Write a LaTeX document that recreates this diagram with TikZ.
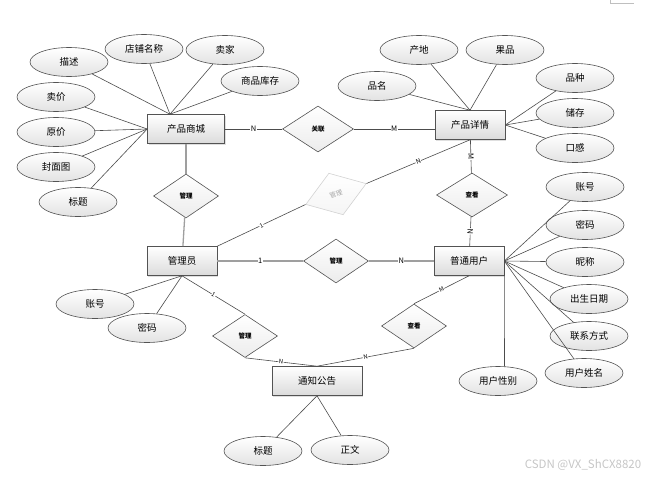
\documentclass[tikz,border=0pt]{standalone}
\usepackage{fontspec}
\setmainfont{Noto Sans CJK SC}
\usepackage{tikz}
\usetikzlibrary{shapes.geometric}
\usetikzlibrary{shadows}
\tikzset{
  entity/.style={rectangle, draw=gray!65!black, top color=white, bottom color=gray!28,
    minimum width=70pt, minimum height=29pt, inner sep=0pt,
    font=\fontsize{9.5}{11}\selectfont,
    drop shadow={opacity=0.25, shadow xshift=1pt, shadow yshift=-1pt}},
  attr/.style={ellipse, draw=gray!65!black, top color=white, bottom color=gray!22,
    minimum width=78pt, minimum height=29pt, inner sep=0pt,
    font=\fontsize{9.5}{11}\selectfont},
  rel/.style={diamond, draw=gray!65!black, top color=white, bottom color=gray!15,
    minimum width=65pt, minimum height=44pt, inner sep=0pt,
    font=\fontsize{6.5}{7}\selectfont\bfseries},
  card/.style={fill=white, inner sep=0.5pt, sloped,
    font=\fontsize{7.5}{8}\selectfont},
  link/.style={draw=gray!60!black, line width=0.6pt},
  mainlink/.style={draw=gray!75, line width=1.3pt}
}

\begin{document}
\begin{tikzpicture}[x=1pt, y=-1pt, semithick]

    \useasboundingbox (0,0) rectangle (656,479);

    % entities
    \node[entity, minimum width=77pt]
      (Shop) at (186,129) {产品商城};
    \node[entity]
      (Detail) at (470,125) {产品详情};
    \node[entity]
      (Admin) at (182,261) {管理员};
    \node[entity]
      (User) at (469,261) {普通用户};
    \node[entity, minimum width=90pt]
      (Notice) at (317,381) {通知公告};

    % relations
    \node[rel, minimum width=71pt, minimum height=46pt]
      (Assoc) at (318,129) {关联};
    \node[rel]
      (ManageA) at (186,196) {管理};
    \node[rel, rotate=19, minimum width=64pt, draw=gray!35, text=gray!70, bottom color=gray!8,
      font=\fontsize{6.5}{7}\selectfont]
      (ManageB) at (336,194) {管理};
    \node[rel, minimum width=71pt]
      (ViewA) at (472,195) {查看};
    \node[rel]
      (ManageC) at (336,261) {管理};
    \node[rel, minimum height=43pt]
      (ManageD) at (245,336) {管理};
    \node[rel]
      (ViewB) at (414,326) {查看};

    % attributes of Shop
    \node[attr]
      (ShopDesc) at (69,62) {描述};
    \node[attr]
      (ShopName) at (144,49) {店铺名称};
    \node[attr]
      (ShopSeller) at (225,50) {卖家};
    \node[attr]
      (ShopStock) at (260,81) {商品库存};
    \node[attr]
      (ShopSell) at (56,97) {卖价};
    \node[attr]
      (ShopOrig) at (56,132) {原价};
    \node[attr]
      (ShopCover) at (56,167) {封面图};
    \node[attr]
      (ShopTitle) at (78,202) {标题};

    % attributes of Detail
    \node[attr]
      (DetailOrigin) at (419,50) {产地};
    \node[attr]
      (DetailFruit) at (505,50) {果品};
    \node[attr]
      (DetailName) at (377,86) {品名};
    \node[attr]
      (DetailKind) at (575,78) {品种};
    \node[attr]
      (DetailStore) at (575,113) {储存};
    \node[attr]
      (DetailTaste) at (575,148) {口感};

    % attributes of User
    \node[attr]
      (UserAcc) at (585,187) {账号};
    \node[attr]
      (UserPwd) at (585,225) {密码};
    \node[attr]
      (UserNick) at (585,262) {昵称};
    \node[attr]
      (UserBirth) at (589,299) {出生日期};
    \node[attr]
      (UserPhone) at (589,336) {联系方式};
    \node[attr]
      (UserName) at (584,373) {用户姓名};
    \node[attr]
      (UserSex) at (498,381) {用户性别};

    % attributes of Admin
    \node[attr]
      (AdminAcc) at (95,304) {账号};
    \node[attr]
      (AdminPwd) at (147,328) {密码};

    % attributes of Notice
    \node[attr]
      (NoticeTitle) at (263,451) {标题};
    \node[attr]
      (NoticeText) at (350,450) {正文};

    \coordinate (ShopTop) at ([xshift=-16pt]Shop.north);

    \path[link]
      (ShopTop) edge (ShopDesc)
      (ShopTop) edge (ShopName)
      (ShopTop) edge (ShopSeller)
      (ShopTop) edge (ShopStock)
      (Shop.west) edge (ShopSell)
      (Shop.west) edge (ShopOrig)
      (Shop.west) edge (ShopCover)
      (Shop.west) edge (ShopTitle)
      (Detail.north) edge (DetailOrigin)
      (Detail.north) edge (DetailFruit)
      (Detail.north) edge (DetailName)
      (Detail.east) edge (DetailKind)
      (Detail.east) edge (DetailStore)
      (Detail.east) edge (DetailTaste)
      (User.east) edge (UserAcc)
      (User.east) edge (UserPwd)
      (User.east) edge (UserNick)
      (User.east) edge (UserBirth)
      (User.east) edge (UserPhone)
      (User.east) edge (UserName)
      (User.east) edge (UserSex.66)
      (Admin.south) edge (AdminAcc)
      (Admin.south) edge (AdminPwd)
      (Notice.south) edge (NoticeTitle)
      (Notice.south) edge (NoticeText);

    \path[link]
      (Shop) edge node[card] {N} (Assoc)
      (Assoc.east) edge node[card] {M} (Assoc.east -| Detail.west)
      (Admin.north east) edge node[card, font=\fontsize{6}{7}\selectfont] {1} (ManageB.west)
      (ManageB.east) edge node[card, font=\fontsize{6.5}{7}\selectfont] {N} (Detail.south)
      (Detail) edge node[card] {M} (ViewA)
      (ViewA) edge node[card] {N} (User)
      (Admin.south) edge node[card, font=\fontsize{6}{7}\selectfont] {1} (ManageD.north)
      (ManageD.south) edge node[card, font=\fontsize{6}{7}\selectfont] {N} (Notice.north)
      (User.south) edge node[card, font=\fontsize{6}{7}\selectfont] {M} (ViewB.north)
      (ViewB.south) edge node[card, font=\fontsize{6}{7}\selectfont] {N} (Notice.north);

    \path[mainlink]
      (Shop) edge (ManageA)
      (ManageA) edge (Admin)
      (Admin) edge node[card, text=black] {1} (ManageC)
      (ManageC) edge node[card, text=black] {N} (User);

    \draw[gray!50] (610,0) -- (610,3) -- (634,3);

    \node[text=gray!45, font=\fontsize{11.5}{13}\selectfont]
      (Mark) at (583,465) {CSDN @VX\_ShCX8820};

  \end{tikzpicture}
\end{document}
